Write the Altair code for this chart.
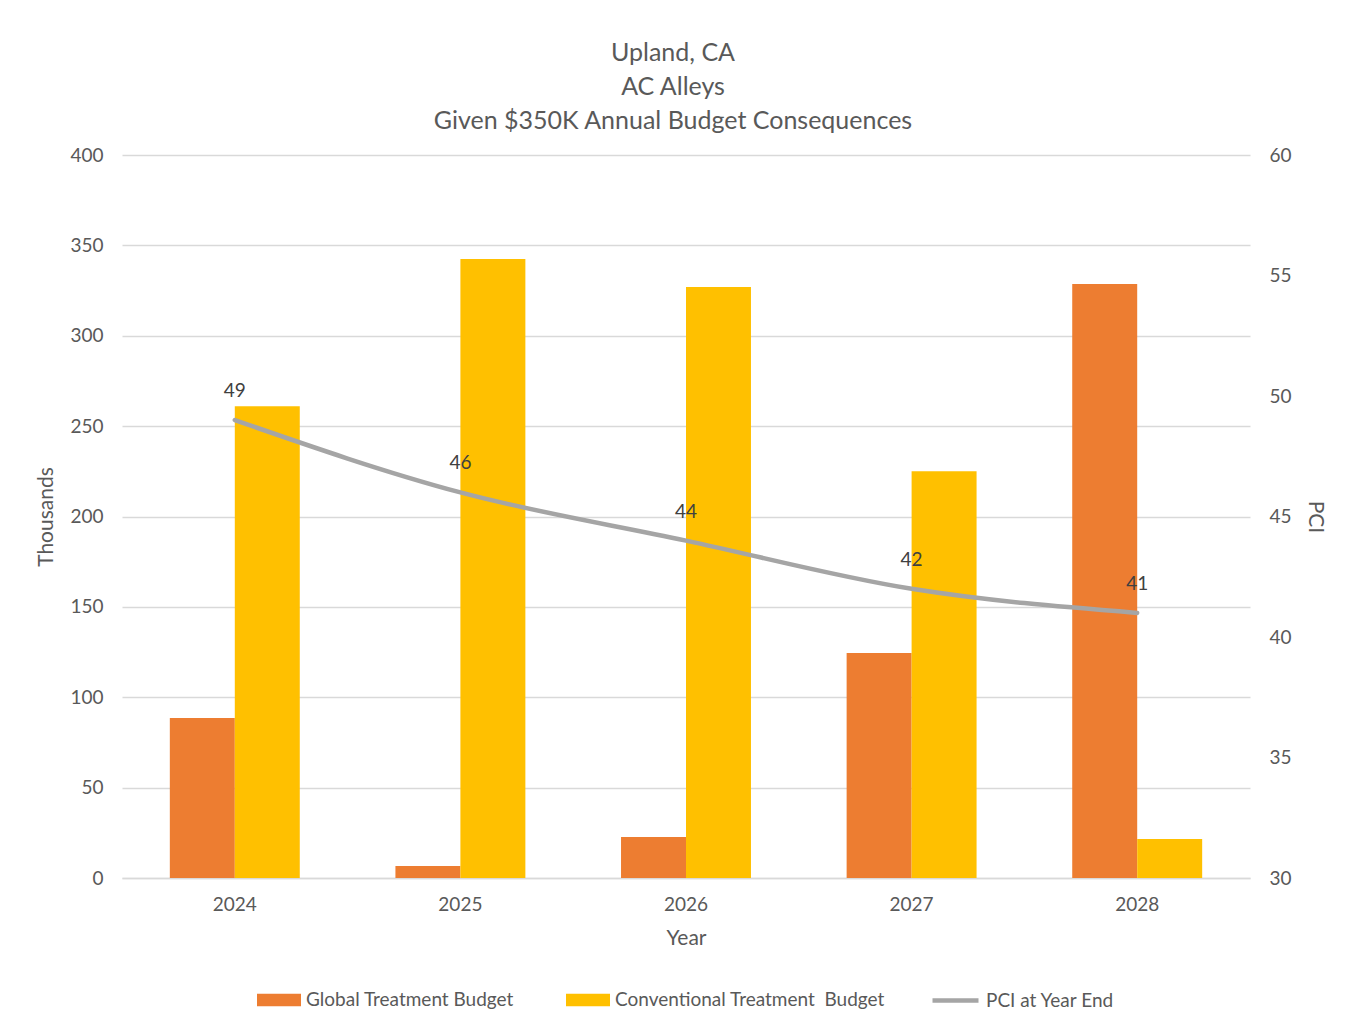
import altair as alt
import pandas as pd

years = ["2024", "2025", "2026", "2027", "2028"]
global_budget = [88.5, 6.6, 22.7, 124.5, 328.6]
conventional_budget = [261, 342.5, 327, 225, 21.6]
pci = [49, 46, 44, 42, 41]

bar_series = ["Global Treatment Budget", "Conventional Treatment\u00a0 Budget"]
bar_colors = ["#ED7D31", "#FFC000"]
line_series = ["PCI at Year End"]
line_colors = ["#A5A5A5"]

rows = []
for i, y in enumerate(years):
    rows.append({"Year": y, "Series": bar_series[0], "Value": global_budget[i]})
    rows.append({"Year": y, "Series": bar_series[1], "Value": conventional_budget[i]})
bars_df = pd.DataFrame(rows)
line_df = pd.DataFrame({"Year": years, "PCI": pci, "Series": line_series[0]})

FONT = "Lato"
TXT = "#595959"

xenc = alt.X(
    "Year:N",
    scale=alt.Scale(paddingInner=0.424, paddingOuter=0.212),
    axis=alt.Axis(title="Year", labelAngle=0, ticks=False, domainColor="#D9D9D9", domainWidth=1.5,
                  labelPadding=17, titlePadding=13, grid=False),
)

bar_legend = alt.Legend(
    orient="none", legendX=135, legendY=823, direction="horizontal", title=None,
    labelFontSize=19, labelColor=TXT, labelFont=FONT, labelOffset=5, labelLimit=500,
    symbolType="M-1,-0.28H1V0.28H-1Z", symbolSize=1936, columnPadding=52,
    symbolStrokeWidth=0, symbolOpacity=1,
)
line_legend = alt.Legend(
    orient="none", legendX=808, legendY=820, direction="horizontal", title=None,
    labelFontSize=19, labelColor=TXT, labelFont=FONT, labelOffset=5, labelLimit=500,
    symbolType="stroke", symbolSize=2116, symbolStrokeWidth=4.5,
)

bars = alt.Chart(bars_df).mark_bar().encode(
    x=xenc,
    xOffset=alt.XOffset("Series:N", sort=bar_series, scale=alt.Scale(paddingInner=0, paddingOuter=0)),
    y=alt.Y("Value:Q", scale=alt.Scale(domain=[0, 400], nice=False),
            axis=alt.Axis(title="Thousands", values=[0, 50, 100, 150, 200, 250, 300, 350, 400],
                          ticks=False, domain=False, labelPadding=19, titlePadding=13,
                          grid=True, gridColor="#D9D9D9", gridWidth=1.5)),
    color=alt.Color("Series:N", scale=alt.Scale(domain=bar_series, range=bar_colors), legend=bar_legend),
)

line = alt.Chart(line_df).mark_line(strokeWidth=4.5, interpolate="monotone", strokeCap="round").encode(
    x=alt.X("Year:N"),
    y=alt.Y("PCI:Q", scale=alt.Scale(domain=[30, 60], nice=False),
            axis=alt.Axis(title="PCI", orient="right", values=[30, 35, 40, 45, 50, 55, 60],
                          ticks=False, domain=False, grid=False, labelPadding=19, titlePadding=13)),
    stroke=alt.Stroke("Series:N", scale=alt.Scale(domain=line_series, range=line_colors), legend=line_legend),
)

labels = alt.Chart(line_df).mark_text(dy=-29, fontSize=19, color="#404040", font=FONT).encode(
    x=alt.X("Year:N"),
    y=alt.Y("PCI:Q"),
    text=alt.Text("PCI:Q"),
)

chart = alt.layer(bars, alt.layer(line, labels)).resolve_scale(y="independent").properties(
    width=1128, height=723,
    autosize=alt.AutoSizeParams(type="none"),
    padding={"left": 114, "top": 147, "right": 96, "bottom": 140},
    title=alt.Title(["Upland, CA", "AC Alleys", "Given $350K Annual Budget Consequences"],
                    fontSize=25, font=FONT, color=TXT, fontWeight="normal", lineHeight=34,
                    offset=12, anchor="middle", dx=-13),
).configure_axis(
    labelFont=FONT, labelFontSize=19, labelColor=TXT,
    titleFont=FONT, titleFontSize=21, titleColor=TXT, titleFontWeight="normal",
).configure_view(stroke=None)

chart.save("out.html", embed_options={"renderer": "svg", "actions": False})
